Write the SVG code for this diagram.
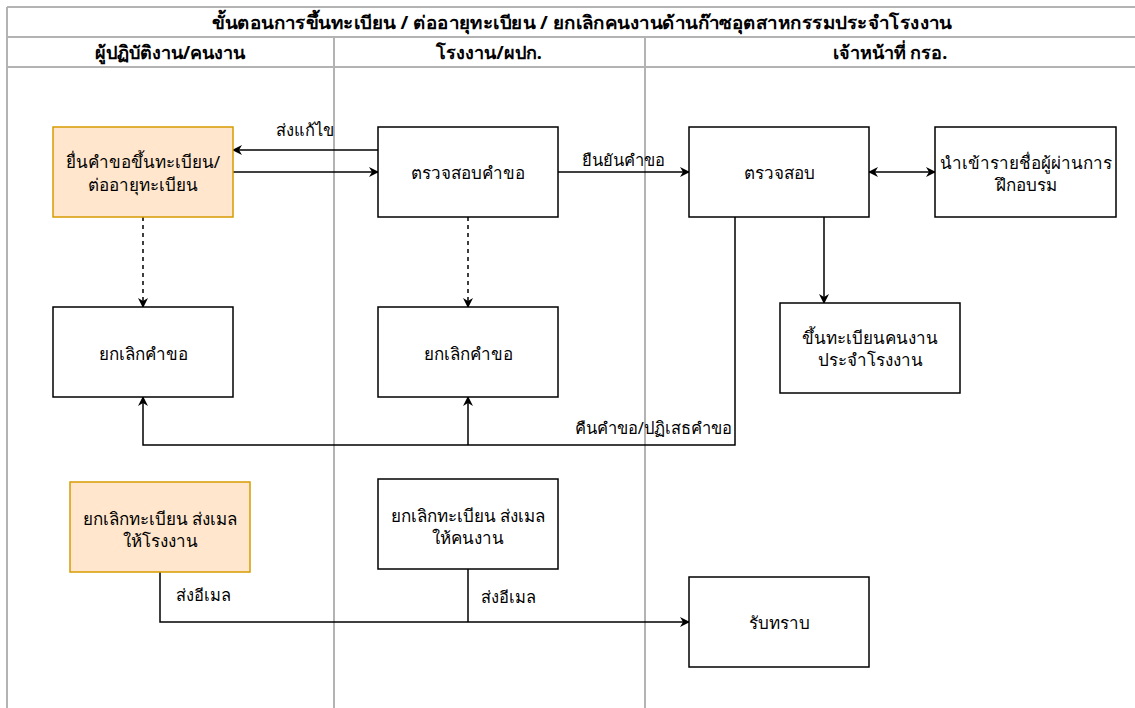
<svg xmlns="http://www.w3.org/2000/svg" width="1135" height="708" viewBox="0 0 1135 708">
<defs>
<style>
text{font-family:"Noto Sans","Liberation Sans","DejaVu Sans",sans-serif;font-size:17px;fill:#000;text-anchor:middle;dominant-baseline:central}
.hdr{font-weight:bold;font-size:18px}
.elb{font-size:16.5px}
.lane{stroke:#b3b3b3;stroke-width:2;fill:none}
.box{fill:#fff;stroke:#000;stroke-width:1.5}
.org{fill:#ffe6cc;stroke:#d79b00;stroke-width:1.5}
.edge{fill:none;stroke:#000;stroke-width:1.5}
.dash{stroke-dasharray:4 4}
.lbl{text-anchor:start}
</style>
<marker id="ah" viewBox="0 0 10 10" refX="9" refY="5" markerWidth="10" markerHeight="10" markerUnits="userSpaceOnUse" orient="auto-start-reverse">
<path d="M0,0 L10,5 L0,10 L3,5 Z" fill="#000"/>
</marker>
</defs>
<rect width="1135" height="708" fill="#fff"/>
<g id="pool">
<line class="lane" x1="7" y1="7" x2="1135" y2="7"/>
<line class="lane" x1="7" y1="37" x2="1135" y2="37"/>
<line class="lane" x1="7" y1="67" x2="1135" y2="67"/>
<line class="lane" x1="7" y1="7" x2="7" y2="708"/>
<line class="lane" x1="334" y1="37" x2="334" y2="708"/>
<line class="lane" x1="645" y1="37" x2="645" y2="708"/>
<text class="hdr" x="582" y="22" textLength="740" lengthAdjust="spacingAndGlyphs">ขั้นตอนการขึ้นทะเบียน / ต่ออายุทะเบียน / ยกเลิกคนงานด้านก๊าซอุตสาหกรรมประจำโรงงาน</text>
<text class="hdr" x="170" y="52">ผู้ปฏิบัติงาน/คนงาน</text>
<text class="hdr" x="489" y="52">โรงงาน/ผปก.</text>
<text class="hdr" x="890" y="52">เจ้าหน้าที่ กรอ.</text>
</g>
<g id="connectors">
<path class="edge" d="M378,150 H233" marker-end="url(#ah)"/>
<text class="lbl elb" x="276" y="129">ส่งแก้ไข</text>
<path class="edge" d="M233,172 H378" marker-end="url(#ah)"/>
<path class="edge" d="M558,172 H689" marker-end="url(#ah)"/>
<text class="elb" x="623" y="159">ยืนยันคำขอ</text>
<path class="edge" d="M869,172 H935" marker-start="url(#ah)" marker-end="url(#ah)"/>
<path class="edge" d="M824,217 V303" marker-end="url(#ah)"/>
<path class="edge dash" d="M143,217 V307" marker-end="url(#ah)"/>
<path class="edge dash" d="M468,217 V307" marker-end="url(#ah)"/>
<path class="edge" d="M735,217 V445 H143 V397" marker-end="url(#ah)"/>
<path class="edge" d="M468,445 V397" marker-end="url(#ah)"/>
<text class="elb" x="732" y="427" style="text-anchor:end">คืนคำขอ/ปฏิเสธคำขอ</text>
<path class="edge" d="M160,572 V622 H689" marker-end="url(#ah)"/>
<path class="edge" d="M468,569 V622"/>
<text class="lbl elb" x="176" y="594">ส่งอีเมล</text>
<text class="lbl elb" x="481" y="596">ส่งอีเมล</text>
</g>
<g id="n1"><rect class="org" x="53" y="127" width="180" height="90"/><text x="143" y="161">ยื่นคำขอขึ้นทะเบียน/</text><text x="143" y="184">ต่ออายุทะเบียน</text></g>
<g id="n2"><rect class="box" x="378" y="127" width="180" height="90"/><text x="468" y="172">ตรวจสอบคำขอ</text></g>
<g id="n3"><rect class="box" x="689" y="127" width="180" height="90"/><text x="779" y="172">ตรวจสอบ</text></g>
<g id="n4"><rect class="box" x="935" y="127" width="181" height="90"/><text x="1026" y="162">นำเข้ารายชื่อผู้ผ่านการ</text><text x="1026" y="184">ฝึกอบรม</text></g>
<g id="n5"><rect class="box" x="53" y="307" width="180" height="90"/><text x="143" y="353">ยกเลิกคำขอ</text></g>
<g id="n6"><rect class="box" x="378" y="307" width="180" height="90"/><text x="468" y="353">ยกเลิกคำขอ</text></g>
<g id="n7"><rect class="box" x="780" y="303" width="180" height="90"/><text x="870" y="337">ขึ้นทะเบียนคนงาน</text><text x="870" y="359">ประจำโรงงาน</text></g>
<g id="n8"><rect class="org" x="70" y="482" width="180" height="90"/><text x="160" y="518">ยกเลิกทะเบียน ส่งเมล</text><text x="160" y="540">ให้โรงงาน</text></g>
<g id="n9"><rect class="box" x="378" y="479" width="180" height="90"/><text x="468" y="515">ยกเลิกทะเบียน ส่งเมล</text><text x="468" y="537">ให้คนงาน</text></g>
<g id="n10"><rect class="box" x="689" y="577" width="180" height="90"/><text x="779" y="622">รับทราบ</text></g>
</svg>
